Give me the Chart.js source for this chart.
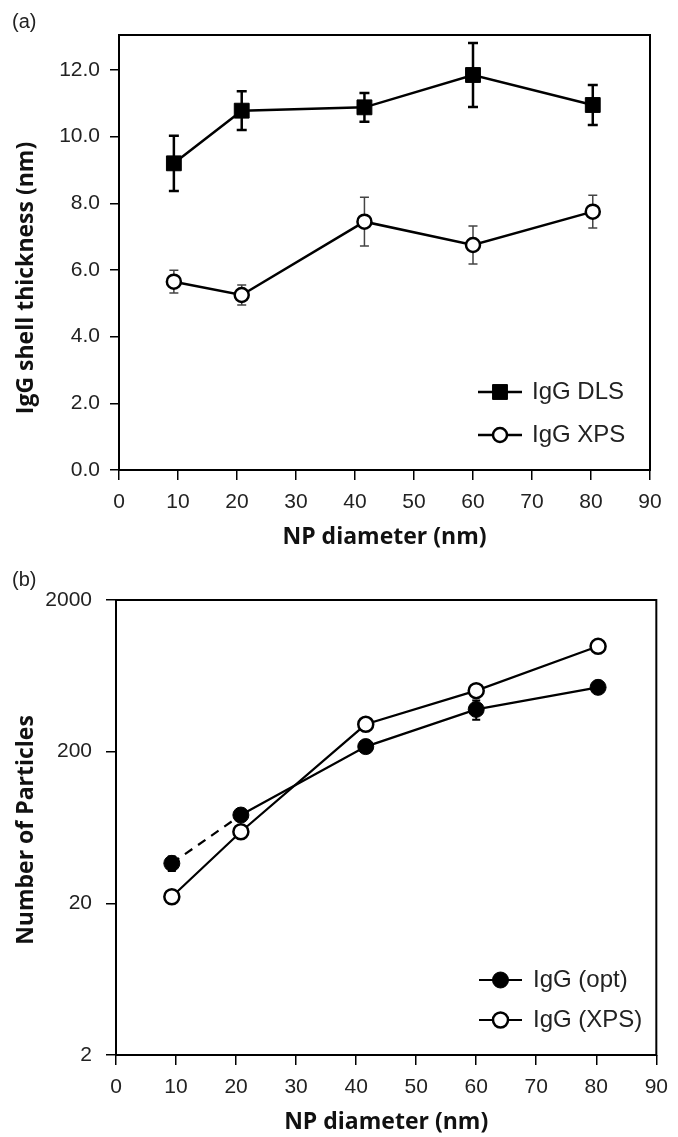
<!DOCTYPE html>
<html>
<head>
<meta charset="utf-8">
<script src="https://cdn.jsdelivr.net/npm/chart.js@4.4.1/dist/chart.umd.min.js"></script>
<style>
  html, body { margin: 0; padding: 0; background: #fff; }
  #wrap { position: relative; width: 678px; height: 1137px; }
  .panel { position: absolute; left: 0; width: 678px; }
  #pa { top: 0; height: 565px; }
  #pb { top: 565px; height: 572px; }
  canvas { display: block; }
</style>
</head>
<body>
<div id="wrap">
  <div class="panel" id="pa"><canvas id="chartA" width="678" height="565"></canvas></div>
  <div class="panel" id="pb"><canvas id="chartB" width="678" height="572"></canvas></div>
</div>
<script>
// --- data ---
const diameters = [9.3, 20.8, 41.6, 60.0, 80.3];
const diameterTicks = [0, 10, 20, 30, 40, 50, 60, 70, 80, 90];

// (a) shell thickness, nm
const dlsShell = [9.2, 10.78, 10.88, 11.85, 10.95];
const dlsErr   = [0.83, 0.58, 0.43, 0.96, 0.60];
const xpsShell = [5.65, 5.25, 7.45, 6.75, 7.75];
const xpsErr   = [0.34, 0.30, 0.73, 0.57, 0.49];
const shellTicks = [0, 2, 4, 6, 8, 10, 12];

// (b) number of particles (log axis)
const optCount = [36.7, 76.4, 216, 380, 531];
const optErr   = [4, 0, 0, 55, 0];
const xpsCount = [22.1, 59.3, 303, 505, 990];
const countTicks = [2, 20, 200, 2000];

const pts = (xs, ys) => xs.map((x, i) => ({ x, y: ys[i] }));

const TICK_FONT = { family: "'Liberation Sans', Arial, sans-serif", size: 21 };
const TITLE_FONT = { family: "'Open Sans', sans-serif", size: 23, weight: "bold" };

// error bars drawn under the markers, through the chart scales
const errorBars = {
  id: "errorBars",
  beforeDatasetsDraw(chart) {
    const { ctx, scales: { x, y } } = chart;
    chart.data.datasets.forEach(ds => {
      if (!ds.errors) return;
      ctx.save();
      ctx.strokeStyle = ds.errColor;
      ctx.lineWidth = ds.errWidth;
      ds.data.forEach((p, i) => {
        const e = ds.errors[i];
        if (!e) return;
        const px = x.getPixelForValue(p.x);
        const top = y.getPixelForValue(p.y + e);
        const bot = y.getPixelForValue(p.y - e);
        ctx.beginPath();
        ctx.moveTo(px, top); ctx.lineTo(px, bot);
        ctx.moveTo(px - ds.errCap, top); ctx.lineTo(px + ds.errCap, top);
        ctx.moveTo(px - ds.errCap, bot); ctx.lineTo(px + ds.errCap, bot);
        ctx.stroke();
      });
      ctx.restore();
    });
  }
};

// box, panel letter, rotated y title, legend inside the plot
const decor = {
  id: "decor",
  afterDraw(chart, args, o) {
    const { ctx, chartArea: a } = chart;
    ctx.save();
    ctx.strokeStyle = "#000";
    ctx.lineWidth = 2;
    ctx.strokeRect(a.left, a.top, a.right - a.left, a.bottom - a.top);

    ctx.fillStyle = "#222";
    ctx.font = "20px 'Liberation Sans', Arial, sans-serif";
    ctx.textAlign = "left";
    ctx.textBaseline = "middle";
    ctx.fillText(o.letter, o.letterPos[0], o.letterPos[1]);

    ctx.save();
    ctx.translate(o.yTitlePos[0], o.yTitlePos[1]);
    ctx.rotate(-Math.PI / 2);
    ctx.fillStyle = "#111";
    ctx.font = "bold 23px 'Open Sans', sans-serif";
    ctx.textAlign = "center";
    ctx.fillText(o.yTitle, 0, 0);
    ctx.restore();

    chart.data.datasets.forEach((ds, i) => {
      const y = o.legendRows[i];
      const [x0, x1] = o.legendLine;
      ctx.strokeStyle = "#000";
      ctx.lineWidth = ds.borderWidth;
      ctx.beginPath();
      ctx.moveTo(x0, y); ctx.lineTo(x1, y);
      ctx.stroke();
      ctx.fillStyle = ds.pointBackgroundColor;
      ctx.strokeStyle = ds.pointBorderColor;
      ctx.lineWidth = ds.pointBorderWidth;
      Chart.helpers.drawPoint(ctx, {
        pointStyle: ds.pointStyle, radius: ds.pointRadius,
        rotation: 0, borderWidth: ds.pointBorderWidth
      }, (x0 + x1) / 2, y);
      ctx.fillStyle = "#222";
      ctx.font = "24px 'Liberation Sans', Arial, sans-serif";
      ctx.textAlign = "left";
      ctx.fillText(ds.label, o.legendText, y);
    });
    ctx.restore();
  }
};

function xAxis(height, titlePad) {
  return {
    type: "linear", min: 0, max: 90,
    afterBuildTicks: s => { s.ticks = diameterTicks.map(v => ({ value: v })); },
    afterFit: s => { s.height = height; },
    grid: { drawOnChartArea: false, drawTicks: true, tickLength: 10, color: "#000", lineWidth: 1.5 },
    border: { display: false },
    ticks: { font: TICK_FONT, color: "#222", padding: 10, maxRotation: 0, autoSkip: false },
    title: { display: true, text: "NP diameter (nm)", font: TITLE_FONT, color: "#111", padding: { top: 0, bottom: titlePad } }
  };
}

// ---------- (a) ----------
new Chart(document.getElementById("chartA"), {
  type: "line",
  data: {
    datasets: [
      {
        label: "IgG DLS", data: pts(diameters, dlsShell),
        errors: dlsErr, errColor: "#000", errWidth: 2.5, errCap: 5,
        borderColor: "#000", borderWidth: 2.5,
        pointStyle: "rect", pointRadius: 10.5, pointBorderWidth: 1,
        pointBackgroundColor: "#000", pointBorderColor: "#000"
      },
      {
        label: "IgG XPS", data: pts(diameters, xpsShell),
        errors: xpsErr, errColor: "#444", errWidth: 1.5, errCap: 4.5,
        borderColor: "#000", borderWidth: 2.5,
        pointStyle: "circle", pointRadius: 7, pointBorderWidth: 2.5,
        pointBackgroundColor: "#fff", pointBorderColor: "#000"
      }
    ]
  },
  options: {
    responsive: false, animation: false, events: [],
    layout: { padding: { top: 35, right: 28, left: 0, bottom: 0 } },
    scales: {
      x: xAxis(95, 14),
      y: {
        type: "linear", min: 0, max: 13.05,
        afterBuildTicks: s => { s.ticks = shellTicks.map(v => ({ value: v })); },
        afterFit: s => { s.width = 119; },
        grid: { drawOnChartArea: false, drawTicks: true, tickLength: 9, color: "#000", lineWidth: 1.5 },
        border: { display: false },
        ticks: { font: TICK_FONT, color: "#222", padding: 10, callback: v => v.toFixed(1) }
      }
    },
    plugins: {
      legend: { display: false }, tooltip: { enabled: false },
      decor: {
        letter: "(a)", letterPos: [12, 22],
        yTitle: "IgG shell thickness (nm)", yTitlePos: [26, 278],
        legendRows: [392, 435], legendLine: [478, 522], legendText: 532
      }
    }
  },
  plugins: [errorBars, decor]
});

// ---------- (b) ----------
new Chart(document.getElementById("chartB"), {
  type: "line",
  data: {
    datasets: [
      {
        label: "IgG (opt)", data: pts(diameters, optCount), order: 2,
        errors: optErr, errColor: "#000", errWidth: 2, errCap: 4,
        borderColor: "#000", borderWidth: 2.2,
        segment: { borderDash: c => c.p0DataIndex === 0 ? [9, 7] : undefined },
        pointStyle: "circle", pointRadius: 8, pointBorderWidth: 1,
        pointBackgroundColor: "#000", pointBorderColor: "#000"
      },
      {
        label: "IgG (XPS)", data: pts(diameters, xpsCount), order: 1,
        borderColor: "#000", borderWidth: 2.2,
        pointStyle: "circle", pointRadius: 7.5, pointBorderWidth: 2.5,
        pointBackgroundColor: "#fff", pointBorderColor: "#000"
      }
    ]
  },
  options: {
    responsive: false, animation: false, events: [],
    layout: { padding: { top: 35, right: 15, left: 0, bottom: 0 } },
    scales: {
      x: xAxis(82, 1),
      y: {
        type: "logarithmic", min: 2, max: 2000,
        afterBuildTicks: s => { s.ticks = countTicks.map(v => ({ value: v })); },
        afterFit: s => { s.width = 116; },
        grid: { drawOnChartArea: false, drawTicks: true, tickLength: 10, color: "#000", lineWidth: 1.5 },
        border: { display: false },
        ticks: { font: TICK_FONT, color: "#222", padding: 14, callback: v => String(v) }
      }
    },
    plugins: {
      legend: { display: false }, tooltip: { enabled: false },
      decor: {
        letter: "(b)", letterPos: [12, 15],
        yTitle: "Number of Particles", yTitlePos: [26, 265],
        legendRows: [415, 455], legendLine: [479, 522], legendText: 533
      }
    }
  },
  plugins: [errorBars, decor]
});
</script>
</body>
</html>
